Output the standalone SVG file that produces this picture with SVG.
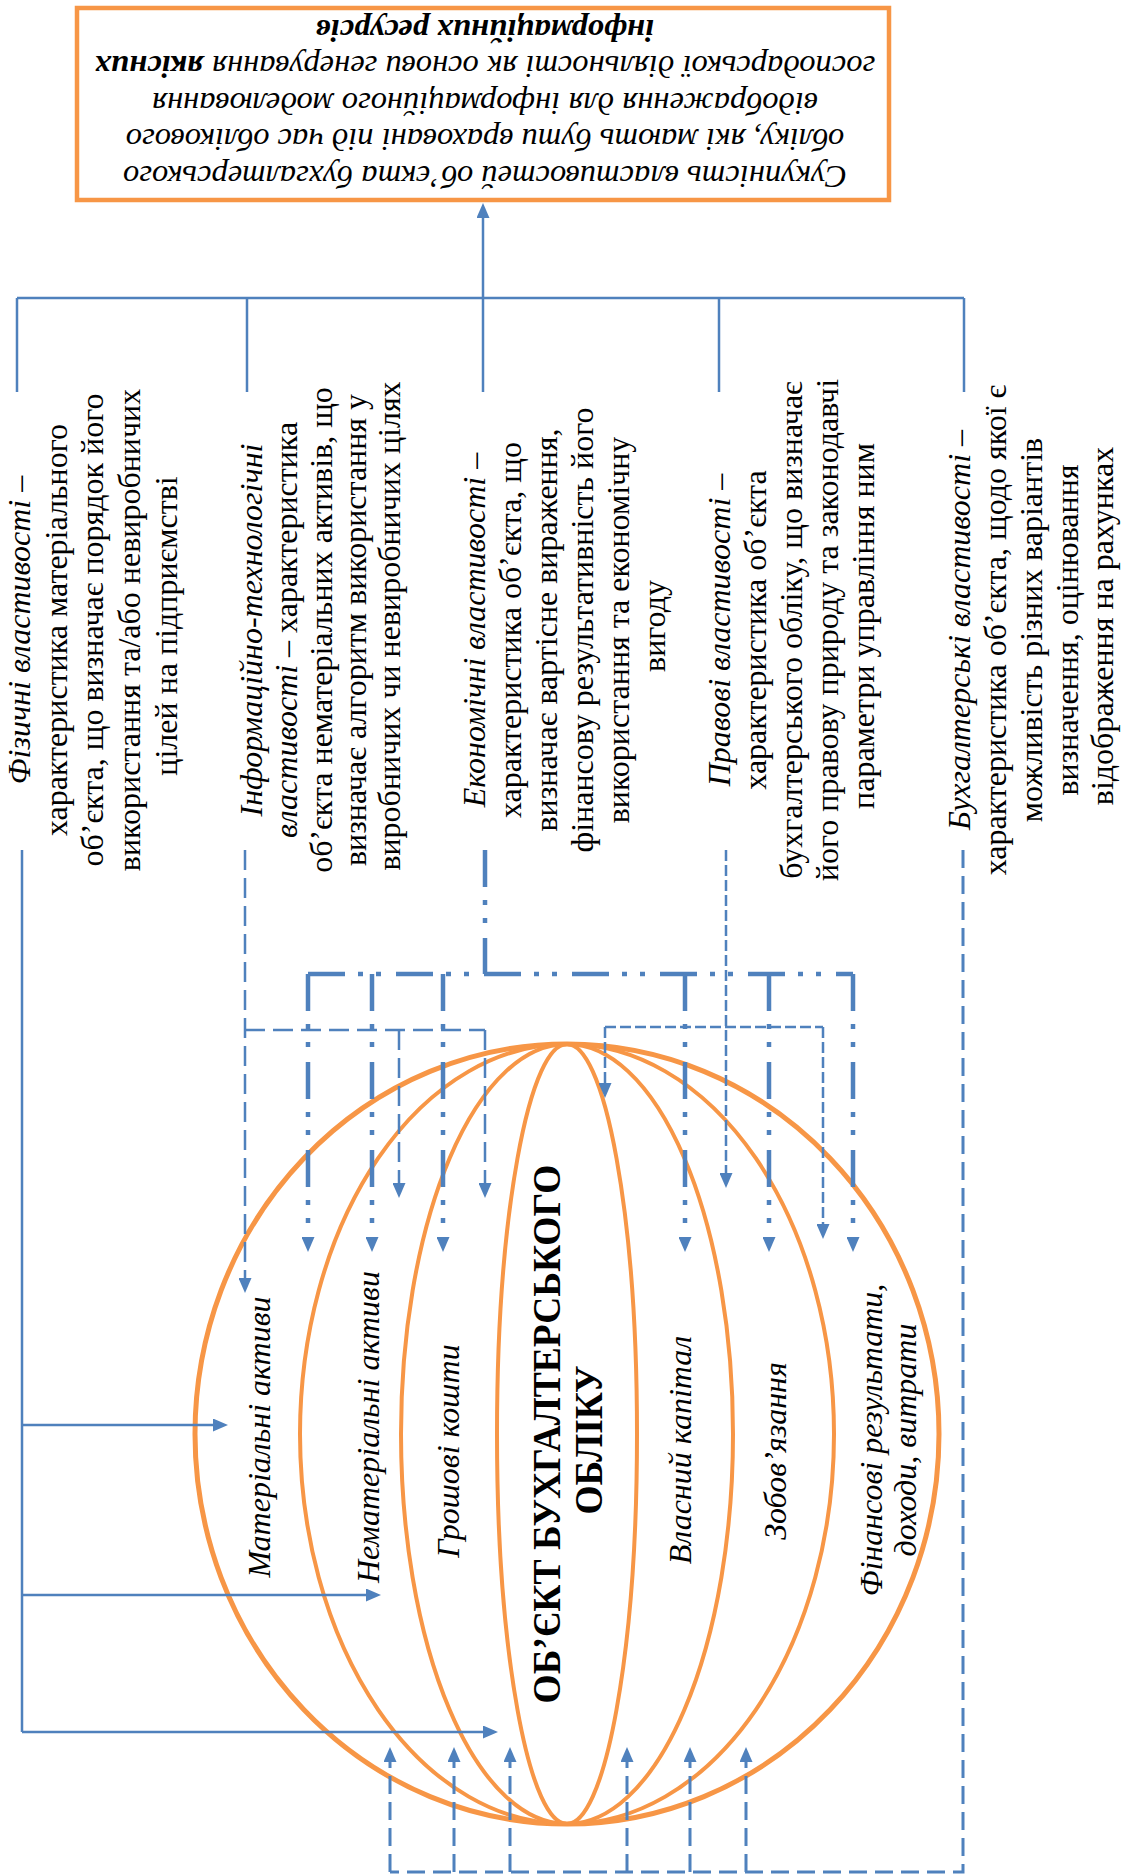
<svg xmlns="http://www.w3.org/2000/svg" width="1128" height="1876" viewBox="0 0 1128 1876">
<style>
  .t { font-family: "Liberation Serif", "Times New Roman", serif; font-size: 32px; fill: #000; text-anchor: middle; }
  .bx { font-family: "Liberation Serif", "Times New Roman", serif; font-size: 32.5px; font-style: italic; fill: #000; text-anchor: middle; }
  .i { font-style: italic; }
  .b { font-weight: bold; }
  .gl { font-family: "Liberation Serif", "Times New Roman", serif; font-size: 32px; font-style: italic; fill: #000; text-anchor: middle; }
  .ttl { font-family: "Liberation Serif", "Times New Roman", serif; font-size: 40px; font-weight: bold; fill: #000; text-anchor: middle; }
  .orb { fill: none; stroke: #F79646; stroke-width: 4; }
  .orb-out { fill: none; stroke: #F79646; stroke-width: 5; }
  .c { fill: none; stroke: #4F81BD; }
  .solid { stroke-width: 2.5; }
  .dash { stroke-width: 2.5; stroke-dasharray: 20 8; }
  .dashdot { stroke-width: 4.5; stroke-dasharray: 37 13 5 13 5 15; }
  .fine { stroke-width: 2.5; stroke-dasharray: 11 4; }
  .dash5 { stroke-width: 3; stroke-dasharray: 18 8; }
</style>
<defs>
  <marker id="ah" viewBox="0 0 15 13" refX="0" refY="6.5" markerWidth="15" markerHeight="13" markerUnits="userSpaceOnUse" orient="auto">
    <path d="M0,0 L15,6.5 L0,13 z" fill="#4F81BD"/>
  </marker>
</defs>

<g id="summary-box">
  <rect x="77" y="8" width="812" height="192" fill="#fff" stroke="#F79646" stroke-width="4.5"/>
  <text class="bx" transform="translate(485,166) rotate(180)">Сукупність властивостей об’єкта бухгалтерського</text>
  <text class="bx" transform="translate(485,129) rotate(180)">обліку, які мають бути враховані під час облікового</text>
  <text class="bx" transform="translate(485,92.5) rotate(180)">відображення для інформаційного моделювання</text>
  <text class="bx" transform="translate(485,56) rotate(180)">господарської діяльності як основи генерування <tspan class="b">якісних</tspan></text>
  <text class="bx b" transform="translate(485,20) rotate(180)">інформаційних ресурсів</text>
</g>

<g id="prop-physical">
  <text class="t" transform="translate(30,626) rotate(-90)">
    <tspan x="0" y="0"><tspan class="i">Фізичні властивості</tspan> –</tspan>
    <tspan x="0" y="37">характеристика матеріального</tspan>
    <tspan x="0" y="73">об’єкта, що визначає порядок його</tspan>
    <tspan x="0" y="110">використання та/або невиробничих</tspan>
    <tspan x="0" y="147">цілей на підприємстві</tspan>
  </text>
</g>

<g id="prop-infotech">
  <text class="t" transform="translate(262,626) rotate(-90)">
    <tspan x="0" y="0" class="i">Інформаційно-технологічні</tspan>
    <tspan x="0" y="35"><tspan class="i">властивості</tspan> – характеристика</tspan>
    <tspan x="0" y="70">об’єкта нематеріальних активів, що</tspan>
    <tspan x="0" y="104">визначає алгоритм використання у</tspan>
    <tspan x="0" y="138">виробничих чи невиробничих цілях</tspan>
  </text>
</g>

<g id="prop-economic">
  <text class="t" transform="translate(485,626) rotate(-90)">
    <tspan x="0" y="0"><tspan class="i">Економічні властивості</tspan> –</tspan>
    <tspan x="0" y="36">характеристика об’єкта, що</tspan>
    <tspan x="0" y="72">визначає вартісне вираження,</tspan>
    <tspan x="0" y="108">фінансову результативність його</tspan>
    <tspan x="0" y="144">використання та економічну</tspan>
    <tspan x="0" y="180">вигоду</tspan>
  </text>
</g>

<g id="prop-legal">
  <text class="t" transform="translate(730,626) rotate(-90)">
    <tspan x="0" y="0"><tspan class="i">Правові властивості</tspan> –</tspan>
    <tspan x="0" y="36">характеристика об’єкта</tspan>
    <tspan x="0" y="72">бухгалтерського обліку, що визначає</tspan>
    <tspan x="0" y="108">його правову природу та законодавчі</tspan>
    <tspan x="0" y="144">параметри управління ним</tspan>
  </text>
</g>

<g id="prop-accounting">
  <text class="t" transform="translate(970,626) rotate(-90)">
    <tspan x="0" y="0"><tspan class="i">Бухгалтерські властивості</tspan> –</tspan>
    <tspan x="0" y="36">характеристика об’єкта, щодо якої є</tspan>
    <tspan x="0" y="72">можливість різних варіантів</tspan>
    <tspan x="0" y="108">визначення, оцінювання</tspan>
    <tspan x="0" y="143">відображення на рахунках</tspan>
  </text>
</g>

<g id="globe">
  <ellipse class="orb-out" cx="567" cy="1434" rx="372" ry="390"/>
  <ellipse class="orb" cx="567" cy="1434" rx="267" ry="390"/>
  <ellipse class="orb" cx="567" cy="1434" rx="166" ry="390"/>
  <ellipse class="orb" cx="567" cy="1434" rx="70" ry="390"/>
  <text class="gl" transform="translate(270,1437) rotate(-90)">Матеріальні активи</text>
  <text class="gl" transform="translate(379,1427) rotate(-90)">Нематеріальні активи</text>
  <text class="gl" transform="translate(459,1451) rotate(-90)">Грошові кошти</text>
  <text class="ttl" transform="translate(560,1434) rotate(-90)" textLength="539" lengthAdjust="spacingAndGlyphs">ОБ’ЄКТ БУХГАЛТЕРСЬКОГО</text>
  <text class="ttl" transform="translate(602,1440) rotate(-90)" textLength="149" lengthAdjust="spacingAndGlyphs">ОБЛІКУ</text>
  <text class="gl" transform="translate(691,1450) rotate(-90)">Власний капітал</text>
  <text class="gl" transform="translate(786,1451) rotate(-90)">Зобов’язання</text>
  <text class="gl" transform="translate(882,1440) rotate(-90)">Фінансові результати,</text>
  <text class="gl" transform="translate(916,1440) rotate(-90)">доходи, витрати</text>
</g>

<g id="connectors">
  <path class="c solid" d="M17,298 H964"/>
  <path class="c solid" d="M17,298 V392 M247,298 V392 M719,298 V392 M964,298 V392"/>
  <path class="c solid" d="M483,392 V218" marker-end="url(#ah)"/>

  <path class="c solid" d="M22,850 V1732"/>
  <path class="c solid" d="M22,1425 H213" marker-end="url(#ah)"/>
  <path class="c solid" d="M22,1595 H366" marker-end="url(#ah)"/>
  <path class="c solid" d="M22,1732 H483" marker-end="url(#ah)"/>

  <path class="c dash" d="M245,850 V1278" marker-end="url(#ah)"/>
  <path class="c dash" d="M245,1030 H485"/>
  <path class="c dash" d="M399,1030 V1183" marker-end="url(#ah)"/>
  <path class="c dash" d="M485,1030 V1183" marker-end="url(#ah)"/>

  <path class="c dashdot" d="M485,850 V974"/>
  <path class="c dashdot" d="M308,974 H853"/>
  <path class="c dashdot" d="M308,974 V1237" marker-end="url(#ah)"/>
  <path class="c dashdot" d="M372,974 V1237" marker-end="url(#ah)"/>
  <path class="c dashdot" d="M443,974 V1237" marker-end="url(#ah)"/>
  <path class="c dashdot" d="M685,974 V1237" marker-end="url(#ah)"/>
  <path class="c dashdot" d="M769,974 V1237" marker-end="url(#ah)"/>
  <path class="c dashdot" d="M853,974 V1237" marker-end="url(#ah)"/>

  <path class="c fine" d="M726,850 V1173" marker-end="url(#ah)"/>
  <path class="c fine" d="M605,1027 H823"/>
  <path class="c fine" d="M605,1027 V1083" marker-end="url(#ah)"/>
  <path class="c fine" d="M823,1027 V1224" marker-end="url(#ah)"/>

  <path class="c dash5" d="M963,850 V1872 H390"/>
  <path class="c dash5" d="M390,1872 V1762" marker-end="url(#ah)"/>
  <path class="c dash5" d="M454,1872 V1762" marker-end="url(#ah)"/>
  <path class="c dash5" d="M510,1872 V1762" marker-end="url(#ah)"/>
  <path class="c dash5" d="M627,1872 V1762" marker-end="url(#ah)"/>
  <path class="c dash5" d="M690,1872 V1762" marker-end="url(#ah)"/>
  <path class="c dash5" d="M746,1872 V1762" marker-end="url(#ah)"/>
</g>
</svg>
